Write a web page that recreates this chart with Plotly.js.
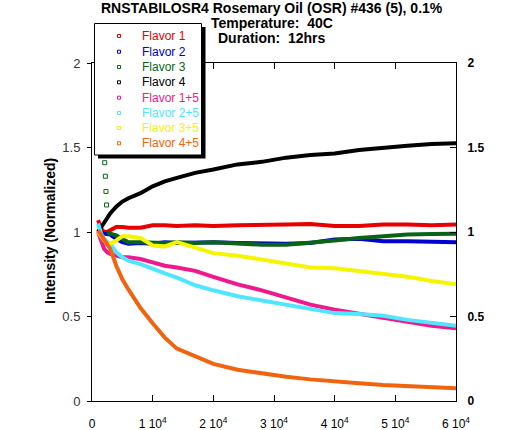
<!DOCTYPE html>
<html><head><meta charset="utf-8">
<script src="https://cdn.plot.ly/plotly-3.0.1.min.js"></script>
<style>html,body{margin:0;padding:0;background:#fff}#chart{width:521px;height:430px}</style>
</head><body><div id="chart"></div>
<script>
// ---- data ----
const timeSec = [1000,1500,2000,2500,3000,4000,5000,6000,8000,10000,12000,14000,17000,20000,24000,28000,32000,36000,40000,44000,48000,52000,56000,60000];
const flavor1   = [1.07,1.02,1.00,1.00,1.01,1.03,1.03,1.025,1.025,1.04,1.04,1.035,1.04,1.035,1.04,1.045,1.045,1.047,1.035,1.035,1.045,1.045,1.04,1.045];
const flavor2   = [1.02,1.00,0.99,0.99,0.985,0.96,0.94,0.93,0.935,0.93,0.94,0.935,0.94,0.94,0.935,0.93,0.93,0.935,0.955,0.96,0.945,0.945,0.94,0.94];
const flavor3   = [null,null,null,1.00,0.99,0.98,0.96,0.94,0.94,0.935,0.935,0.94,0.935,0.94,0.93,0.925,0.925,0.935,0.95,0.965,0.975,0.985,0.988,0.99];
const flavor3EarlyTime = [2100,2200,2300,2400];
const flavor3EarlyVal  = [1.41,1.33,1.24,1.16];
const flavor4   = [1.00,1.03,1.06,1.09,1.11,1.15,1.18,1.20,1.23,1.27,1.30,1.32,1.35,1.37,1.40,1.415,1.44,1.455,1.465,1.485,1.50,1.51,1.52,1.525];
const flavor15  = [1.00,0.94,0.90,0.88,0.87,0.86,0.85,0.85,0.84,0.82,0.80,0.79,0.77,0.735,0.69,0.655,0.615,0.57,0.54,0.515,0.49,0.465,0.445,0.43];
const flavor25  = [1.05,0.99,0.96,0.94,0.93,0.88,0.85,0.83,0.81,0.78,0.755,0.73,0.685,0.655,0.62,0.595,0.57,0.54,0.52,0.515,0.505,0.48,0.46,0.445];
const flavor35  = [1.00,0.97,0.95,0.93,0.93,0.95,0.975,0.975,0.965,0.92,0.915,0.94,0.91,0.875,0.86,0.835,0.81,0.79,0.785,0.77,0.755,0.735,0.71,0.69];
const flavor45  = [1.01,0.98,0.96,0.93,0.90,0.80,0.72,0.66,0.55,0.46,0.375,0.31,0.265,0.22,0.185,0.163,0.143,0.128,0.115,0.105,0.095,0.088,0.082,0.075];
const seriesNames = ['Flavor 1','Flavor 2','Flavor 3','Flavor 4','Flavor 1+5','Flavor 2+5','Flavor 3+5','Flavor 4+5'];
const seriesColors = ['#e60000','#0000d0','#0a6418','#000000','#f0188c','#50e6ff','#f5f500','#f0640f'];
const xTickVals = [0,10000,20000,30000,40000,50000,60000];
const xTickText = ['0','1 10<sup>4</sup>','2 10<sup>4</sup>','3 10<sup>4</sup>','4 10<sup>4</sup>','5 10<sup>4</sup>','6 10<sup>4</sup>'];
const yTickVals = [0,0.5,1,1.5,2];
const yTickText = ['0','0.5','1','1.5','2'];
const titleLines = ['RNSTABILOSR4 Rosemary Oil (OSR) #436 (5), 0.1%','Temperature:\u00a0 40C','Duration:\u00a0 12hrs'];
const yTitle = 'Intensity (Normalized)';

const allSeries = [flavor1,flavor2,flavor3,flavor4,flavor15,flavor25,flavor35,flavor45];
const FONT = 'Liberation Sans, Arial, sans-serif';

const traces = allSeries.map((vals,i)=>({
  x: timeSec, y: vals, type:'scatter', mode:'lines', name: seriesNames[i],
  line:{color: seriesColors[i], width:4}, showlegend:false, hoverinfo:'skip'
}));
traces.splice(3,0,{
  x: flavor3EarlyTime, y: flavor3EarlyVal, type:'scatter', mode:'markers', showlegend:false,
  marker:{symbol:'square-open', size:4, color: seriesColors[2], line:{width:1}}, hoverinfo:'skip'
});
traces.push({x:[], y:[], yaxis:'y2', type:'scatter', showlegend:false});

// pixel helpers for paper coordinates (plot area: x 92..456, y 63..401)
const L=92, R=65, T=63, B=29, W=521-L-R, H=430-T-B;
const px = v => (v-L)/W;
const py = v => (430-B-v)/H;

const annotations = [];
const shapes = [];
// title lines
[8,22.5,38].forEach((yy,i)=>annotations.push({
  xref:'paper', yref:'paper', x:px(272), y:py(yy), xanchor:'center', yanchor:'middle',
  text:'<b>'+titleLines[i]+'</b>', showarrow:false, font:{family:FONT,size:14,color:'#000'}
}));
// y title
annotations.push({xref:'paper', yref:'paper', x:px(50), y:py(231), xanchor:'center', yanchor:'middle',
  text:'<b>'+yTitle+'</b>', textangle:-90, showarrow:false, font:{family:FONT,size:14,color:'#000'}});
// legend box with shadow
shapes.push({type:'rect', xref:'paper', yref:'paper', layer:'above', x0:px(98), x1:px(205.5), y0:py(158.5), y1:py(27), fillcolor:'#000', line:{width:0}});
shapes.push({type:'rect', xref:'paper', yref:'paper', layer:'above', x0:px(94.5), x1:px(201.5), y0:py(155), y1:py(23.5), fillcolor:'#fff', line:{color:'#000', width:1}});
const legY = [36,51.7,67,82.3,97.7,113,128,143.3];
seriesNames.forEach((n,i)=>{
  shapes.push({type:'rect', xref:'paper', yref:'paper', layer:'above',
    x0:px(117.5), x1:px(120.5), y0:py(legY[i]+1.5), y1:py(legY[i]-1.5),
    fillcolor:'rgba(0,0,0,0)', line:{color:seriesColors[i], width:1}});
  annotations.push({xref:'paper', yref:'paper', x:px(140), y:py(legY[i]), xanchor:'left', yanchor:'middle',
    text:n, showarrow:false, font:{family:FONT,size:12,color:seriesColors[i]}});
});

const layout = {
  width:521, height:430, margin:{l:L,r:R,t:T,b:B,pad:0},
  paper_bgcolor:'#fff', plot_bgcolor:'#fff', showlegend:false,
  font:{family:FONT, color:'#000'},
  xaxis:{range:[0,60000], tickvals:xTickVals, ticktext:xTickText, ticks:'inside', ticklen:6, tickcolor:'#000',
    showline:true, linecolor:'#000', linewidth:1, mirror:'ticks', showgrid:false, zeroline:false,
    tickfont:{family:FONT,size:12,color:'#000'}, ticklabelstandoff:12, fixedrange:true},
  yaxis:{range:[0,2], tickvals:yTickVals, ticktext:yTickText, ticks:'outside', ticklen:4, tickcolor:'#000',
    showline:true, linecolor:'#000', linewidth:1, showgrid:false, zeroline:false,
    tickfont:{family:FONT,size:13,color:'#333'}, ticklabelstandoff:4, fixedrange:true},
  yaxis2:{range:[0,2], overlaying:'y', side:'right', anchor:'x', tickvals:yTickVals, ticktext:yTickText,
    ticks:'inside', ticklen:6, tickcolor:'#000', showline:true, linecolor:'#000', linewidth:1,
    showgrid:false, zeroline:false, tickfont:{family:FONT,size:12,color:'#000',weight:'bold'}, ticklabelstandoff:8, fixedrange:true},
  annotations: annotations, shapes: shapes
};
Plotly.newPlot('chart', traces, layout, {staticPlot:true, displayModeBar:false});
</script></body></html>
